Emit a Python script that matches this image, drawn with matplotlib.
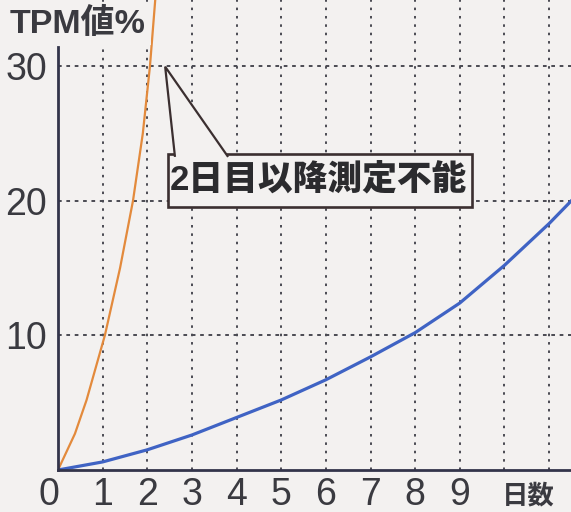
import matplotlib
matplotlib.use('Agg')
import matplotlib.pyplot as plt
from matplotlib.patches import Polygon, Rectangle
from matplotlib.transforms import ScaledTranslation

# data (days, TPM %)
orange_days = [0, 0.38, 0.64, 1.05, 1.39, 1.68, 1.90, 2.06, 2.18]
orange_tpm = [0, 2.7, 5.2, 10.0, 15.0, 20.0, 25.0, 30.0, 35.0]

blue_days = [0, 1, 2, 3, 4, 5, 6, 7, 8, 9, 10, 11, 11.5]
blue_tpm = [0, 0.6, 1.5, 2.6, 3.9, 5.2, 6.7, 8.4, 10.2, 12.4, 15.2, 18.3, 20.0]

x_ticks = [0, 1, 2, 3, 4, 5, 6, 7, 8, 9]
x_labels = ['0', '1', '2', '3', '4', '5', '6', '7', '8', '9']
x_grid = [1, 2, 3, 4, 5, 6, 7, 8, 9, 10, 11]
y_ticks = [10, 20, 30]
y_labels = ['10', '20', '30']

ylabel = 'TPM値%'
xlabel = '日数'
note = '2日目以降測定不能'

# callout box / pointer (data units)
box_x0, box_x1 = 2.47, 9.28
box_y0, box_y1 = 19.5, 23.5
tip = (2.40, 29.95)
base_x0, base_x1 = 2.62, 3.81

bg = '#f3f1f0'
ink = '#3a3a40'
edge = '#3b2f30'
fonts = ['Liberation Sans', 'Noto Sans CJK JP', 'DejaVu Sans']
plt.rcParams['font.family'] = fonts

fig = plt.figure(figsize=(5.71, 5.12), dpi=100, facecolor=bg)
ax = fig.add_axes([58 / 571, 42 / 512, 1 - 58 / 571, 1 - 42 / 512])
ax.set_facecolor(bg)

ax.plot(orange_days, orange_tpm, color='#e38a3c', lw=1.6, zorder=3)
ax.plot(blue_days, blue_tpm, color='#3f63c4', lw=2.3, zorder=3)

ax.set_xlim(0, 11.49)
ax.set_ylim(0, 34.9)

ax.xaxis.remove_overlapping_locs = False
ax.set_xticks(x_ticks, x_labels)
ax.set_xticks(x_grid, minor=True)
ax.set_yticks(y_ticks, y_labels)
ax.tick_params(axis='both', which='both', length=0)
ax.tick_params(axis='x', labelsize=27, labelcolor=ink, pad=5)
ax.tick_params(axis='y', labelsize=27, labelcolor=ink, pad=8)
ax.grid(which='minor', axis='x', color='#4a4a52', lw=1.4, ls=(0, (1.3, 3.0)))
ax.grid(which='major', axis='y', color='#4a4a52', lw=1.4, ls=(0, (1.9, 2.4)))
ax.grid(which='major', axis='x', visible=False)

# "0" sits a little left of the axis in the original
lbl0 = ax.get_xticklabels()[0]
lbl0.set_transform(lbl0.get_transform() + ScaledTranslation(-9 / 100, 0, fig.dpi_scale_trans))

for s in ['top', 'right']:
    ax.spines[s].set_visible(False)
ax.spines['left'].set_bounds(0, 31.4)
for s in ['left', 'bottom']:
    ax.spines[s].set_color('#33344a')
    ax.spines[s].set_linewidth(2.0)
    ax.spines[s].set_zorder(4)

ax.text(10.53, -0.0295, xlabel, transform=ax.get_xaxis_transform(), ha='center', va='top',
        fontsize=19, fontweight='bold', color=ink)

fig.text(10 / 571, 1 - 24 / 512, ylabel, ha='left', va='center', fontsize=24.5,
         fontweight='bold', color=ink, zorder=10,
         bbox=dict(boxstyle='square,pad=0.15', fc=bg, ec='none'))

# speech-bubble callout
ax.add_patch(Rectangle((box_x0, box_y0), box_x1 - box_x0, box_y1 - box_y0,
                       fc=bg, ec=edge, lw=1.9, zorder=6))
ax.add_patch(Polygon([(base_x0, box_y1 - 0.25), tip, (base_x1, box_y1 - 0.25)],
                     closed=False, fc=bg, ec=edge, lw=1.6, zorder=7))
ax.text((box_x0 + box_x1) / 2 - 0.05, (box_y0 + box_y1) / 2, note, ha='center', va='center',
        fontsize=25, fontweight='black', color='#2b2b2e', zorder=8)

fig.savefig('out.png', dpi=100, facecolor=bg)
